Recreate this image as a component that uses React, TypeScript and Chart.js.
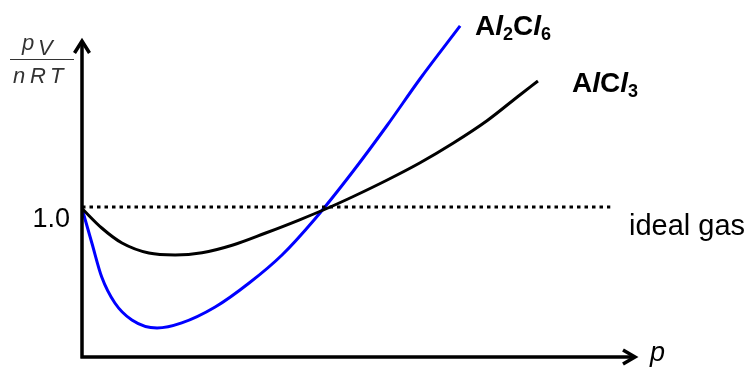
import React, { useEffect, useRef } from "react";
import { Chart, registerables } from "chart.js";

Chart.register(...registerables);

// Data (pressure in arbitrary units, pV/nRT)
const alcl3P = [0, 0.36, 0.73, 1.22, 1.7, 2.19, 2.74, 3.34, 3.96, 4.53, 4.95, 5.57, 6.17, 6.77, 7.39, 7.99, 8.32];
const alcl3Z = [0.99, 0.86, 0.76, 0.693, 0.68, 0.695, 0.745, 0.825, 0.913, 1.0, 1.07, 1.18, 1.295, 1.425, 1.575, 1.747, 1.84];
const al2cl6P = [0, 0.18, 0.36, 0.6, 0.91, 1.37, 1.82, 2.43, 3.05, 3.65, 4.25, 4.95, 5.57, 6.17, 6.9];
const al2cl6Z = [0.99, 0.76, 0.533, 0.36, 0.247, 0.193, 0.227, 0.333, 0.493, 0.68, 0.92, 1.24, 1.545, 1.855, 2.207];
const idealP = [0, 9.64];
const idealZ = [1.0, 1.0];
const yTickLabel = "1.0";
const idealLabel = "ideal gas";

const FONT = "'Liberation Sans', Arial, sans-serif";

const toPts = (xs: number[], ys: number[]) => xs.map((x, i) => ({ x, y: ys[i] }));

const decorPlugin = {
  id: "decor",
  afterDraw(chart: any) {
    const ctx: CanvasRenderingContext2D = chart.ctx;
    const xs = chart.scales.x;
    const ys = chart.scales.y;
    const ox = xs.getPixelForValue(0);
    const oy = ys.getPixelForValue(0);
    ctx.save();
    // axes
    ctx.strokeStyle = "#000";
    ctx.lineWidth = 3.5;
    ctx.lineCap = "butt";
    ctx.beginPath();
    ctx.moveTo(ox, oy + 1.5);
    ctx.lineTo(ox, 41);
    ctx.moveTo(ox - 1.5, oy);
    ctx.lineTo(635, oy);
    ctx.stroke();
    // arrowheads
    ctx.lineJoin = "miter";
    ctx.beginPath();
    ctx.moveTo(ox - 7.5, 53);
    ctx.lineTo(ox, 41);
    ctx.lineTo(ox + 7.5, 53);
    ctx.stroke();
    ctx.beginPath();
    ctx.moveTo(623, oy - 7);
    ctx.lineTo(635, oy);
    ctx.lineTo(623, oy + 7);
    ctx.stroke();

    // tick label 1.0
    const y1 = ys.getPixelForValue(1);
    ctx.fillStyle = "#000";
    ctx.font = `27px ${FONT}`;
    ctx.textAlign = "right";
    ctx.textBaseline = "alphabetic";
    ctx.fillText(yTickLabel, 70, y1 + 20);

    // ideal gas
    ctx.textAlign = "left";
    ctx.font = `29px ${FONT}`;
    ctx.fillText(idealLabel, 629, y1 + 28);

    // x label p
    ctx.font = `italic 27px ${FONT}`;
    ctx.fillText("p", 650, 361);

    // y label pV / nRT
    ctx.fillStyle = "#333";
    ctx.font = `italic 22px ${FONT}`;
    ctx.fillText("p", 22, 50);
    ctx.fillText("V", 38, 55);
    ctx.fillText("n", 13, 83);
    ctx.fillText("R", 30, 83);
    ctx.fillText("T", 50, 83);
    ctx.strokeStyle = "#333";
    ctx.lineWidth = 1.2;
    ctx.beginPath();
    ctx.moveTo(10, 59.5);
    ctx.lineTo(74, 59.5);
    ctx.stroke();

    // formula labels
    const drawParts = (x: number, y: number, parts: [string, string, number][]) => {
      let cx = x;
      ctx.fillStyle = "#000";
      for (const [t, style, dy] of parts) {
        ctx.font = style;
        ctx.fillText(t, cx, y + dy);
        cx += ctx.measureText(t).width;
      }
    };
    const B = `bold 28px ${FONT}`;
    const BI = `italic bold 28px ${FONT}`;
    const S = `bold 18px ${FONT}`;
    drawParts(475, 35, [
      ["A", B, 0],
      ["l", BI, 0],
      ["2", S, 5],
      ["C", B, 0],
      ["l", BI, 0],
      ["6", S, 5],
    ]);
    drawParts(572, 92, [
      ["A", B, 0],
      ["l", BI, 0],
      ["C", B, 0],
      ["l", BI, 0],
      ["3", S, 5],
    ]);
    ctx.restore();
  },
};

export default function App() {
  const ref = useRef<HTMLCanvasElement>(null);
  useEffect(() => {
    document.body.style.margin = "0";
    if (!ref.current) return;
    const chart = new Chart(ref.current, {
      type: "line",
      data: {
        datasets: [
          {
            label: "ideal gas",
            data: toPts(idealP, idealZ),
            borderColor: "#000",
            borderWidth: 3,
            borderDash: [3.5, 4],
            pointRadius: 0,
            fill: false,
          },
          {
            label: "AlCl3",
            data: toPts(alcl3P, alcl3Z),
            borderColor: "#000",
            borderWidth: 3,
            pointRadius: 0,
            cubicInterpolationMode: "monotone",
            fill: false,
          },
          {
            label: "Al2Cl6",
            data: toPts(al2cl6P, al2cl6Z),
            borderColor: "#0000ff",
            borderWidth: 3,
            pointRadius: 0,
            cubicInterpolationMode: "monotone",
            fill: false,
          },
        ],
      },
      options: {
        responsive: false,
        animation: false,
        devicePixelRatio: 1,
        layout: { padding: { left: 82, right: 119, top: 12, bottom: 11 } },
        plugins: { legend: { display: false }, tooltip: { enabled: false } },
        scales: {
          x: { type: "linear", min: 0, max: 10, display: false },
          y: { type: "linear", min: 0, max: 2.3, display: false },
        },
      },
      plugins: [decorPlugin],
    } as any);
    return () => chart.destroy();
  }, []);
  return (
    <div style={{ position: "absolute", left: 0, top: 0, width: 749, height: 368 }}>
      <canvas ref={ref} width={749} height={368} style={{ display: "block" }} />
    </div>
  );
}
